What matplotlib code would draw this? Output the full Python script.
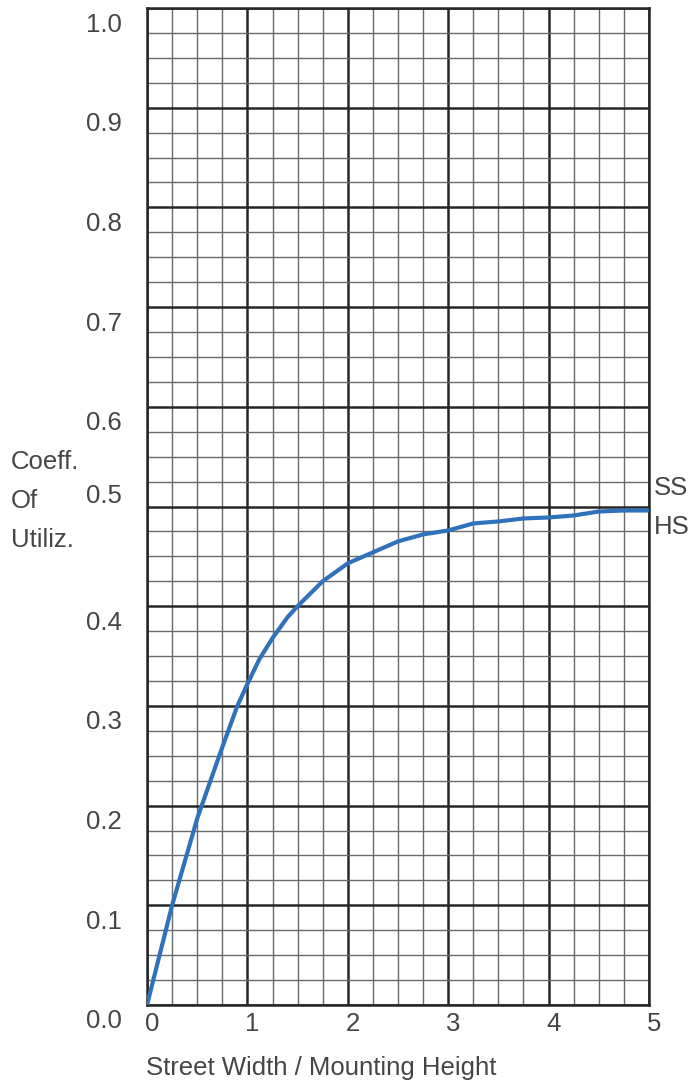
import matplotlib
matplotlib.use("Agg")
import matplotlib.pyplot as plt
import matplotlib.transforms as mtrans
import numpy as np

# curve
ratio = [0, 0.25, 0.5, 0.73, 0.9, 1.0, 1.12, 1.25, 1.4, 1.5, 1.75, 2.0, 2.25, 2.5, 2.75,
         3.0, 3.25, 3.5, 3.75, 4.0, 4.25, 4.5, 4.75, 5.0]
cu = [0, 0.10, 0.187, 0.253, 0.30, 0.322, 0.347, 0.368, 0.389, 0.40, 0.425, 0.443, 0.454,
      0.465, 0.472, 0.476, 0.483, 0.485, 0.488, 0.489, 0.491, 0.495, 0.496, 0.496]

x_ticks = [0, 1, 2, 3, 4, 5]
y_ticks = [0.0, 0.1, 0.2, 0.3, 0.4, 0.5, 0.6, 0.7, 0.8, 0.9, 1.0]
y_labels = ["0.0", "0.1", "0.2", "0.3", "0.4", "0.5", "0.6", "0.7", "0.8", "0.9", "1.0"]

plt.rcParams["font.family"] = ["Liberation Sans", "DejaVu Sans"]
txt = "#454545"
fs = 18.5

fig = plt.figure(figsize=(6.91, 10.84), dpi=100)
ax = fig.add_axes([147 / 691, 79 / 1084, 502 / 691, 997 / 1084])

ax.plot(ratio, cu, color="#2f72bb", lw=3, zorder=5, solid_capstyle="round")

ax.set_xlim(0, 5)
ax.set_ylim(0, 1.0)
ax.set_xticks(x_ticks)
ax.set_xticks(np.arange(0, 5.01, 0.25), minor=True)
ax.set_yticks(y_ticks)
ax.set_yticklabels(y_labels)
ax.set_yticks(np.arange(0, 1.001, 0.025), minor=True)

ax.grid(which="minor", color="#6a6a6a", lw=1.0)
ax.grid(which="major", color="#262626", lw=1.8)
ax.set_axisbelow(True)
for s in ax.spines.values():
    s.set_color("#262626")
    s.set_linewidth(1.8)

ax.tick_params(which="both", length=0)
ax.tick_params(axis="y", labelsize=fs, labelcolor=txt, pad=18)
ax.tick_params(axis="x", labelsize=fs, labelcolor=txt, pad=5)

# labels sit below their lines, except 0.5 which sits above
for lab, v in zip(ax.get_yticklabels(), y_ticks):
    dy = 13 if abs(v - 0.5) < 1e-9 else -14
    lab.set_transform(lab.get_transform() + mtrans.ScaledTranslation(0, dy / 100, fig.dpi_scale_trans))
for lab in ax.get_xticklabels():
    lab.set_transform(lab.get_transform() + mtrans.ScaledTranslation(5 / 100, 0, fig.dpi_scale_trans))

fig.text(146 / 691, 1 - 1068 / 1084, "Street Width / Mounting Height", fontsize=fs,
         color=txt, ha="left", va="center")
for i, w in enumerate(["Coeff.", "Of", "Utiliz."]):
    fig.text(11 / 691, 1 - (462 + 39 * i) / 1084, w, fontsize=fs, color=txt,
             ha="left", va="center")
fig.text(654 / 691, 1 - 488 / 1084, "SS", fontsize=fs, color=txt, ha="left", va="center")
fig.text(654 / 691, 1 - 527 / 1084, "HS", fontsize=fs, color=txt, ha="left", va="center")

fig.savefig("out.png", dpi=100)
plt.close(fig)
